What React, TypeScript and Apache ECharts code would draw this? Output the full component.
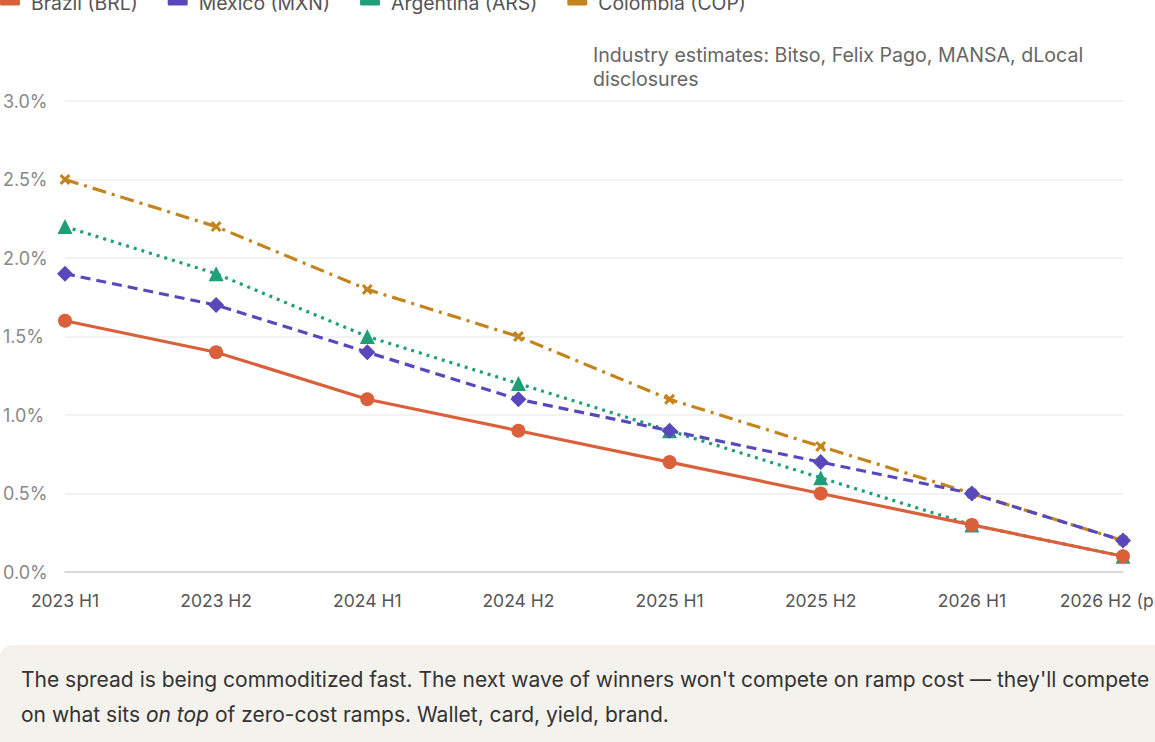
import { useEffect, useRef } from 'react'
import * as echarts from 'echarts'

const periods = ['2023 H1', '2023 H2', '2024 H1', '2024 H2', '2025 H1', '2025 H2', '2026 H1', '2026 H2 (proj.)']

const brazil = [1.6, 1.4, 1.1, 0.9, 0.7, 0.5, 0.3, 0.1]
const mexico = [1.9, 1.7, 1.4, 1.1, 0.9, 0.7, 0.5, 0.2]
const argentina = [2.2, 1.9, 1.5, 1.2, 0.9, 0.6, 0.3, 0.1]
const colombia = [2.5, 2.2, 1.8, 1.5, 1.1, 0.8, 0.5, 0.2]

const sourceNote = 'Industry estimates: Bitso, Felix Pago, MANSA, dLocal\ndisclosures'

const FONT = 'Inter, "Noto Sans", sans-serif'

// thick "x" marker for Colombia
const crossSymbol = 'path://M2,0 L5,3 L8,0 L10,2 L7,5 L10,8 L8,10 L5,7 L2,10 L0,8 L3,5 L0,2 Z'

function SpreadChart() {
  const chartRef = useRef<HTMLDivElement>(null)

  useEffect(() => {
    if (!chartRef.current) return
    const chart = echarts.init(chartRef.current, undefined, { renderer: 'svg' })

    const lines = [
      { name: 'Brazil (BRL)', data: brazil, color: '#D9603B', type: 'solid' as any, symbol: 'circle', size: 14, z: 5 },
      { name: 'Mexico (MXN)', data: mexico, color: '#5848BC', type: [10, 6], symbol: 'diamond', size: 16, z: 4 },
      { name: 'Argentina (ARS)', data: argentina, color: '#1F9E78', type: [3, 5], symbol: 'triangle', size: 15, z: 3 },
      { name: 'Colombia (COP)', data: colombia, color: '#C4841D', type: [14, 6, 3, 6], symbol: crossSymbol, size: 11, z: 2 },
    ]

    chart.setOption({
      animation: false,
      textStyle: { fontFamily: FONT },
      legend: {
        left: 0,
        top: 13,
        padding: 0,
        icon: 'roundRect',
        itemWidth: 20,
        itemHeight: 6,
        itemGap: 30,
        textStyle: { fontSize: 19.4, color: '#555', fontFamily: FONT, padding: [0, 0, 0, 6] },
        data: lines.map((l) => l.name),
      },
      graphic: [
        {
          type: 'text',
          left: 593,
          top: 63,
          style: {
            text: sourceNote,
            fontSize: 19.6,
            lineHeight: 24,
            fill: '#666',
            fontFamily: FONT,
          },
        },
      ],
      grid: { left: 65, right: 32, top: 121, bottom: 73, outerBoundsMode: 'none', containLabel: false },
      xAxis: {
        type: 'category',
        boundaryGap: false,
        data: periods,
        axisLine: { lineStyle: { color: '#cfcfcf', width: 1.5 } },
        axisTick: { show: false },
        axisLabel: { interval: 0, margin: 19, fontSize: 17.5, color: '#555', fontFamily: FONT, hideOverlap: false },
        splitLine: { show: false },
      },
      yAxis: {
        type: 'value',
        min: 0,
        max: 3,
        interval: 0.5,
        axisLine: { show: false },
        axisTick: { show: false },
        axisLabel: {
          align: 'left',
          margin: 62,
          fontSize: 18,
          color: '#888',
          fontFamily: FONT,
          formatter: (v: number) => v.toFixed(1) + '%',
        },
        splitLine: { lineStyle: { color: '#eeeeee', width: 1.5 } },
      },
      series: lines.map((l) => ({
        name: l.name,
        type: 'line',
        data: l.data,
        z: l.z,
        symbol: l.symbol,
        symbolSize: l.size,
        showAllSymbol: true,
        lineStyle: { color: l.color, width: 3.2, type: l.type },
        itemStyle: { color: l.color, borderWidth: 0 },
        emphasis: { disabled: true },
      })),
    })

    return () => chart.dispose()
  }, [])

  return <div ref={chartRef} style={{ position: 'absolute', left: 0, top: -20, width: 1155, height: 665 }} />
}

export default function App() {
  return (
    <div style={{ position: 'fixed', inset: 0, overflow: 'hidden', background: '#fff', fontFamily: FONT }}>
      <SpreadChart />
      <div
        style={{
          position: 'absolute',
          left: 0,
          top: 645,
          width: 1170,
          height: 130,
          background: '#f4f2ec',
          borderRadius: 12,
          boxSizing: 'border-box',
          padding: '17px 0 0 21px',
          fontSize: 21,
          lineHeight: '35px',
          color: '#333',
          whiteSpace: 'nowrap',
        }}
      >
        The spread is being commoditized fast. The next wave of winners won't compete on ramp cost — they'll compete
        <br />
        on what sits <i>on top</i> of zero-cost ramps. Wallet, card, yield, brand.
      </div>
    </div>
  )
}
